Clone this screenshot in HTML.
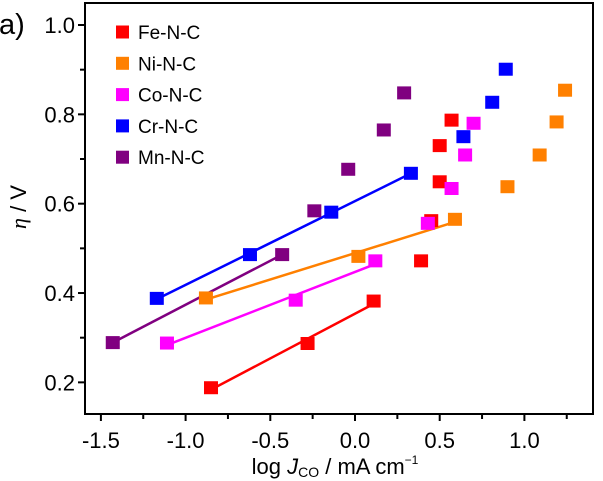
<!DOCTYPE html>
<html><head><meta charset="utf-8"><style>
html,body{margin:0;padding:0;background:#fff;}
svg{display:block;font-family:"Liberation Sans",Arial,sans-serif;}
</style></head><body>
<svg id="chart" width="603" height="481" viewBox="0 0 603 481">
<rect x="0" y="0" width="603" height="481" fill="#fff"/>
<g id="fits"></g><g id="marks"></g><g id="axes"></g>
</svg>
<script>
const seriesNames = ["Fe-N-C","Ni-N-C","Co-N-C","Cr-N-C","Mn-N-C"];
const seriesColors = ["#ff0000","#ff8000","#ff00ff","#0000ff","#800080"];
// fitted points (with regression line)
const feFitX = [-0.85,-0.28,0.11], feFitY = [0.188,0.287,0.382];
const niFitX = [-0.88,0.02,0.59], niFitY = [0.389,0.482,0.565];
const coFitX = [-1.11,-0.35,0.12], coFitY = [0.288,0.384,0.472];
const crFitX = [-1.17,-0.62,-0.14,0.33], crFitY = [0.388,0.486,0.581,0.668];
const mnFitX = [-1.43,-0.43], mnFitY = [0.289,0.486];
// extra scatter points
const feScX = [0.39,0.45,0.50,0.50,0.57], feScY = [0.472,0.562,0.649,0.730,0.787];
const niScX = [0.90,1.09,1.19,1.24], niScY = [0.638,0.709,0.783,0.854];
const coScX = [0.43,0.57,0.65,0.70], coScY = [0.556,0.634,0.709,0.780];
const crScX = [0.64,0.81,0.89], crScY = [0.750,0.827,0.901];
const mnScX = [-0.24,-0.04,0.17,0.29], mnScY = [0.584,0.677,0.765,0.848];
const xTicks = [-1.5,-1.0,-0.5,0.0,0.5,1.0];
const xTickLabels = ["-1.5","-1.0","-0.5","0.0","0.5","1.0"];
const yTicks = [0.2,0.4,0.6,0.8,1.0];
const yTickLabels = ["0.2","0.4","0.6","0.8","1.0"];

const NS="http://www.w3.org/2000/svg";
const L=85,R=593,T=3,B=414;
function xs(v){return 355+v*169.4;}
function ys(v){return 25+(1.0-v)*446.7;}
function mk(tag,attrs,parent){const e=document.createElementNS(NS,tag);for(const k in attrs)e.setAttribute(k,attrs[k]);parent.appendChild(e);return e;}
const axes=document.getElementById('axes'),marks=document.getElementById('marks'),fits=document.getElementById('fits');

const fitX=[feFitX,niFitX,coFitX,crFitX,mnFitX],fitY=[feFitY,niFitY,coFitY,crFitY,mnFitY];
const scX=[feScX,niScX,coScX,crScX,mnScX],scY=[feScY,niScY,coScY,crScY,mnScY];
for(let s=0;s<5;s++){
  const X=fitX[s],Y=fitY[s],n=X.length;
  let mx=0,my=0;for(let i=0;i<n;i++){mx+=X[i];my+=Y[i];}mx/=n;my/=n;
  let sxy=0,sxx=0;for(let i=0;i<n;i++){sxy+=(X[i]-mx)*(Y[i]-my);sxx+=(X[i]-mx)**2;}
  const b=sxy/sxx,a=my-b*mx;const x1=Math.min(...X),x2=Math.max(...X);
  const ln=mk('line',{x1:xs(x1),y1:ys(a+b*x1),x2:xs(x2),y2:ys(a+b*x2),stroke:seriesColors[s],'stroke-width':2.5},fits);
  
  
  const allX=X.concat(scX[s]),allY=Y.concat(scY[s]);
  for(let i=0;i<allX.length;i++){
    const r=mk('rect',{x:xs(allX[i])-7,y:ys(allY[i])-6.5,width:14,height:13,fill:seriesColors[s]},marks);
    
    
  }
}
// frame
const fr=mk('rect',{x:L,y:T,width:R-L,height:B-T,fill:'none',stroke:'#000','stroke-width':2},axes);


// x ticks
for(let i=0;i<xTicks.length;i++){
  const x=xs(xTicks[i]);
  mk('line',{x1:x,y1:B,x2:x,y2:B+7,stroke:'#000','stroke-width':2},axes);
  const t=mk('text',{x:x,y:B+34,'text-anchor':'middle','font-size':22,fill:'#000'},axes);
  t.textContent=xTickLabels[i];
  
  
  const mxv=xTicks[i]+0.25;
  if(xs(mxv)<R) mk('line',{x1:xs(mxv),y1:B,x2:xs(mxv),y2:B+5,stroke:'#000','stroke-width':2},axes);
}
// y ticks
for(let i=0;i<yTicks.length;i++){
  const y=ys(yTicks[i]);
  mk('line',{x1:L-7,y1:y,x2:L,y2:y,stroke:'#000','stroke-width':2},axes);
  const t=mk('text',{x:L-10,y:y+8,'text-anchor':'end','font-size':22,fill:'#000'},axes);
  t.textContent=yTickLabels[i];
  
  
  if(yTicks[i]<1.0) mk('line',{x1:L-5,y1:ys(yTicks[i]+0.1),x2:L,y2:ys(yTicks[i]+0.1),stroke:'#000','stroke-width':2},axes);
}
// legend
for(let s=0;s<5;s++){
  const y=32+s*31.3;
  const r=mk('rect',{x:116,y:y-6.5,width:13,height:13,fill:seriesColors[s]},axes);
  
  
  const t=mk('text',{x:138,y:y+7,'font-size':19,fill:'#000'},axes);
  t.textContent=seriesNames[s];
  
  
}
</script>
<svg style="position:absolute;left:0;top:0" width="603" height="481">
<text x="-1" y="34" font-size="29" font-family="Liberation Sans,sans-serif">a)</text>
<text transform="translate(26,207) rotate(-90)" text-anchor="middle" font-size="22" font-family="Liberation Sans,sans-serif"><tspan font-family="Liberation Serif,serif" font-style="italic">η</tspan> / V</text>
<text x="335" y="474" text-anchor="middle" font-size="22" font-family="Liberation Sans,sans-serif">log <tspan font-style="italic">J</tspan><tspan font-size="14" dy="3">CO</tspan><tspan dy="-3"> / mA cm</tspan><tspan font-size="12" dy="-10">−1</tspan></text>
</svg>
</body></html>
